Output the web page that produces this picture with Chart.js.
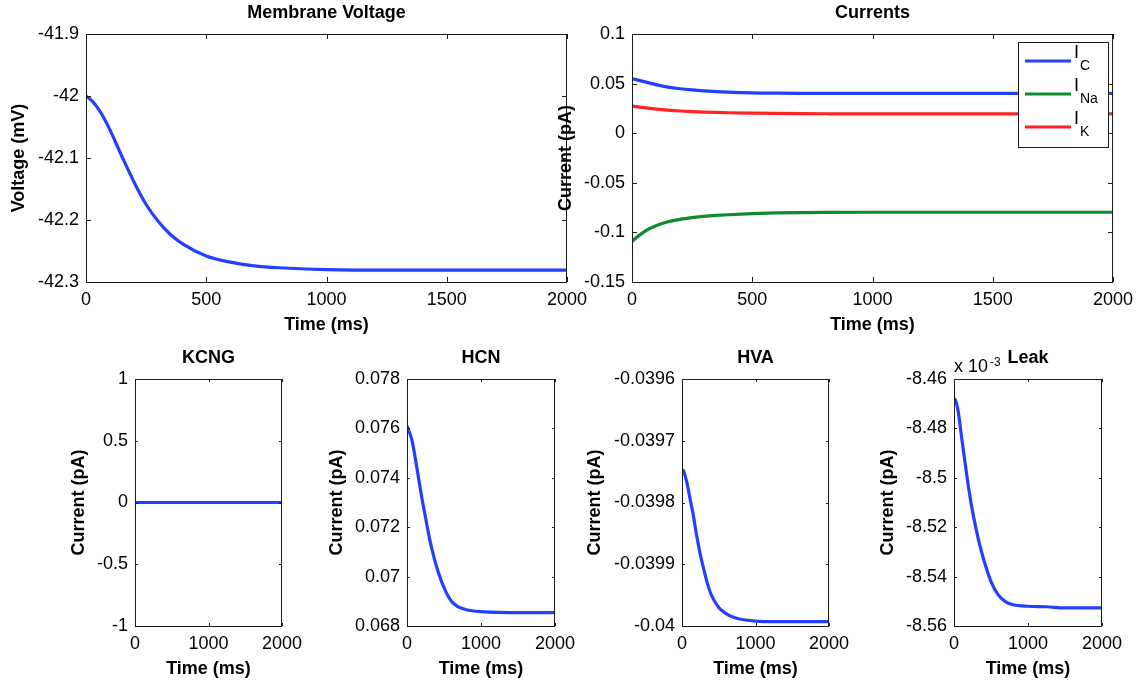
<!DOCTYPE html>
<html><head><meta charset="utf-8">
<script src="https://cdn.jsdelivr.net/npm/chart.js@4.4.1/dist/chart.umd.min.js"></script>
<style>
html,body{margin:0;padding:0;background:#fff;}
#wrap{position:relative;width:1138px;height:682px;overflow:hidden;background:#fff;}
canvas{position:absolute;}
</style></head><body><div id="wrap"></div>
<script>
// ---------- data ----------
const timeMs = [0,25,50,75,100,150,200,250,300,350,400,500,600,700,800,1000,1250,1500,2000];
const voltage = [-42.000,-42.008,-42.020,-42.036,-42.055,-42.098,-42.139,-42.175,-42.202,-42.223,-42.238,-42.258,-42.268,-42.274,-42.277,-42.280,-42.281,-42.281,-42.281];
const currentC  = [0.0550,0.0535,0.0520,0.0505,0.0490,0.0465,0.0448,0.0436,0.0427,0.0420,0.0414,0.0406,0.0403,0.0402,0.0402,0.0402,0.0402,0.0402,0.0402];
const currentNa = [-0.1090,-0.1040,-0.0995,-0.0960,-0.0932,-0.0893,-0.0868,-0.0851,-0.0838,-0.0829,-0.0822,-0.0811,-0.0804,-0.0800,-0.0798,-0.0797,-0.0797,-0.0797,-0.0797];
const currentK  = [0.0274,0.0265,0.0257,0.0250,0.0243,0.0232,0.0224,0.0218,0.0213,0.0209,0.0206,0.0202,0.0199,0.0197,0.0196,0.0195,0.0195,0.0195,0.0195];
const kcng = [0,0,0,0,0,0,0,0,0,0,0,0,0,0,0,0,0,0,0];
const hcn  = [0.0761,0.0759,0.0757,0.0754,0.0750,0.0741,0.0732,0.0724,0.0716,0.07095,0.0704,0.06955,0.0690,0.06876,0.06866,0.06858,0.06855,0.06854,0.06854];
const hva  = [-0.039746,-0.039750,-0.039760,-0.039772,-0.039788,-0.039818,-0.039854,-0.039885,-0.039910,-0.039933,-0.039950,-0.039970,-0.039980,-0.039986,-0.039989,-0.039992,-0.039993,-0.039993,-0.039993];
const leak = [-0.0084677,-0.0084690,-0.0084720,-0.0084770,-0.0084830,-0.0084940,-0.0085045,-0.0085135,-0.0085210,-0.0085275,-0.0085330,-0.0085420,-0.0085475,-0.0085502,-0.0085514,-0.0085520,-0.0085522,-0.0085527,-0.0085527];

const xTicksTop = [0,500,1000,1500,2000];
const xTicksBottom = [0,1000,2000];
const voltageTicks = [-42.3,-42.2,-42.1,-42,-41.9];
const voltageTickLabels = ['-42.3','-42.2','-42.1','-42','-41.9'];
const currentTicks = [-0.15,-0.1,-0.05,0,0.05,0.1];
const currentTickLabels = ['-0.15','-0.1','-0.05','0','0.05','0.1'];
const kcngTicks = [-1,-0.5,0,0.5,1];
const kcngTickLabels = ['-1','-0.5','0','0.5','1'];
const hcnTicks = [0.068,0.070,0.072,0.074,0.076,0.078];
const hcnTickLabels = ['0.068','0.07','0.072','0.074','0.076','0.078'];
const hvaTicks = [-0.04,-0.0399,-0.0398,-0.0397,-0.0396];
const hvaTickLabels = ['-0.04','-0.0399','-0.0398','-0.0397','-0.0396'];
const leakTicks = [-0.00856,-0.00854,-0.00852,-0.0085,-0.00848,-0.00846];
const leakTickLabels = ['-8.56','-8.54','-8.52','-8.5','-8.48','-8.46'];

const legendMain = ['I','I','I'];
const legendSub = ['C','Na','K'];

const BLUE = '#2340ff', GREEN = '#0f8a2c', RED = '#ff2424';
const FONT = '"Liberation Sans", Arial, Helvetica, sans-serif';
const AXC = '#1c1c1c';

// ---------- decoration plugin (box, inward ticks, titles, labels, legend) ----------
const decor = {
  id: 'decor',
  afterDatasetsDraw(chart, args, o) {
    const ctx = chart.ctx, a = chart.chartArea;
    const xs = chart.scales.x, ys = chart.scales.y;
    const L = Math.round(a.left), R = Math.round(a.right), T = Math.round(a.top), B = Math.round(a.bottom);
    ctx.save();
    ctx.strokeStyle = AXC; ctx.lineWidth = 1;
    ctx.beginPath();
    xs.ticks.forEach(t => {
      const px = Math.round(xs.getPixelForValue(t.value)) + 0.5;
      ctx.moveTo(px, B); ctx.lineTo(px, B - o.tickLen);
      ctx.moveTo(px, T); ctx.lineTo(px, T + o.tickLen);
    });
    ys.ticks.forEach(t => {
      const py = Math.round(ys.getPixelForValue(t.value)) + 0.5;
      ctx.moveTo(L, py); ctx.lineTo(L + o.tickLen, py);
      ctx.moveTo(R, py); ctx.lineTo(R - o.tickLen, py);
    });
    ctx.stroke();
    ctx.strokeRect(L + 0.5, T + 0.5, R - L - 1, B - T);
    // texts
    ctx.fillStyle = '#000';
    ctx.textAlign = 'center'; ctx.textBaseline = 'middle';
    ctx.font = 'bold 18px ' + FONT;
    ctx.fillText(o.title, (L + R) / 2, T - 21);
    ctx.fillText(o.xlabel, (L + R) / 2, B + 43);
    ctx.save();
    ctx.translate(L - o.ylabelOffset, (T + B) / 2);
    ctx.rotate(-Math.PI / 2);
    ctx.fillText(o.ylabel, 0, 0);
    ctx.restore();
    if (o.exponent) {
      ctx.textAlign = 'left'; ctx.textBaseline = 'alphabetic';
      ctx.font = '18px ' + FONT;
      ctx.fillText(o.exponent[0], L, T - 7);
      const w = ctx.measureText(o.exponent[0]).width;
      ctx.font = '12px ' + FONT;
      ctx.fillText(o.exponent[1], L + w + 2, T - 13);
    }
    if (o.legend) {
      const bw = 90, bh = 105;
      const bx = R - 5 - bw, by = T + 8;
      ctx.fillStyle = '#fff';
      ctx.fillRect(bx, by, bw, bh);
      ctx.strokeStyle = AXC; ctx.lineWidth = 1;
      ctx.strokeRect(bx + 0.5, by + 0.5, bw, bh);
      chart.data.datasets.forEach((ds, i) => {
        const ly = by + 19 + i * 33;
        ctx.strokeStyle = ds.borderColor; ctx.lineWidth = 3.2;
        ctx.beginPath(); ctx.moveTo(bx + 7, ly); ctx.lineTo(bx + 53, ly); ctx.stroke();
        ctx.fillStyle = '#000'; ctx.textAlign = 'left'; ctx.textBaseline = 'alphabetic';
        ctx.font = '18px ' + FONT;
        ctx.fillText(legendMain[i], bx + 56, ly - 3);
        ctx.font = '14px ' + FONT;
        ctx.fillText(legendSub[i], bx + 62, ly + 9);
      });
    }
    ctx.restore();
  }
};

// ---------- panels ----------
const ML = 100, MT = 40, MR = 30, MB = 60;
const panels = [
  {box:[86,34,567,282], xTicks:xTicksTop, yTicks:voltageTicks, yLabels:voltageTickLabels,
   title:'Membrane Voltage', ylabel:'Voltage (mV)', ylabelOffset:67, tickLen:5,
   series:[{label:'V', data:voltage, color:BLUE}]},
  {box:[632,34,1113,282], xTicks:xTicksTop, yTicks:currentTicks, yLabels:currentTickLabels,
   title:'Currents', ylabel:'Current (pA)', ylabelOffset:66, tickLen:5, legend:true,
   series:[{label:'I_C', data:currentC, color:BLUE},{label:'I_Na', data:currentNa, color:GREEN},{label:'I_K', data:currentK, color:RED}]},
  {box:[135,379,282,626], xTicks:xTicksBottom, yTicks:kcngTicks, yLabels:kcngTickLabels,
   title:'KCNG', ylabel:'Current (pA)', ylabelOffset:56, tickLen:3,
   series:[{label:'KCNG', data:kcng, color:BLUE}]},
  {box:[407,379,555,626], xTicks:xTicksBottom, yTicks:hcnTicks, yLabels:hcnTickLabels,
   title:'HCN', ylabel:'Current (pA)', ylabelOffset:70, tickLen:3,
   series:[{label:'HCN', data:hcn, color:BLUE}]},
  {box:[682,379,829,626], xTicks:xTicksBottom, yTicks:hvaTicks, yLabels:hvaTickLabels,
   title:'HVA', ylabel:'Current (pA)', ylabelOffset:87, tickLen:3,
   series:[{label:'HVA', data:hva, color:BLUE}]},
  {box:[954,379,1102,626], xTicks:xTicksBottom, yTicks:leakTicks, yLabels:leakTickLabels,
   title:'Leak', ylabel:'Current (pA)', ylabelOffset:66, tickLen:3, exponent:['x 10','-3'],
   series:[{label:'Leak', data:leak, color:BLUE}]}
];

Chart.defaults.font.family = FONT;
Chart.defaults.color = '#000';
const wrap = document.getElementById('wrap');

panels.forEach(p => {
  const [l, t, r, b] = p.box;
  const cv = document.createElement('canvas');
  cv.width = (r - l) + ML + MR; cv.height = (b - t) + MT + MB;
  cv.style.left = (l - ML) + 'px'; cv.style.top = (t - MT) + 'px';
  cv.style.width = cv.width + 'px'; cv.style.height = cv.height + 'px';
  wrap.appendChild(cv);
  new Chart(cv, {
    type: 'line',
    data: {
      datasets: p.series.map(s => ({
        label: s.label,
        data: timeMs.map((x, i) => ({x, y: s.data[i]})),
        borderColor: s.color, backgroundColor: s.color,
        borderWidth: 3.2, pointRadius: 0, fill: false,
        cubicInterpolationMode: 'monotone'
      }))
    },
    options: {
      responsive: false, animation: false, devicePixelRatio: 1,
      layout: {padding: {top: MT, right: MR, left: 0, bottom: 0}},
      plugins: {
        legend: {display: false}, tooltip: {enabled: false}, title: {display: false},
        decor: {title: p.title, xlabel: 'Time (ms)', ylabel: p.ylabel, ylabelOffset: p.ylabelOffset,
                tickLen: p.tickLen, legend: !!p.legend, exponent: p.exponent}
      },
      scales: {
        x: {
          type: 'linear', min: 0, max: 2000,
          grid: {display: false, drawTicks: false}, border: {display: false},
          afterBuildTicks: s => { s.ticks = p.xTicks.map(v => ({value: v})); },
          afterFit: s => { s.height = MB; },
          ticks: {autoSkip: false, maxRotation: 0, padding: 7, font: {size: 18}, color: '#000',
                  callback: v => String(v)}
        },
        y: {
          type: 'linear', min: p.yTicks[0], max: p.yTicks[p.yTicks.length - 1],
          grid: {display: false, drawTicks: false}, border: {display: false},
          afterBuildTicks: s => { s.ticks = p.yTicks.map(v => ({value: v})); },
          afterFit: s => { s.width = ML; },
          ticks: {autoSkip: false, padding: 7, font: {size: 18}, color: '#000',
                  callback: (v, i) => p.yLabels[i]}
        }
      }
    },
    plugins: [decor]
  });
});
</script>
</body></html>
